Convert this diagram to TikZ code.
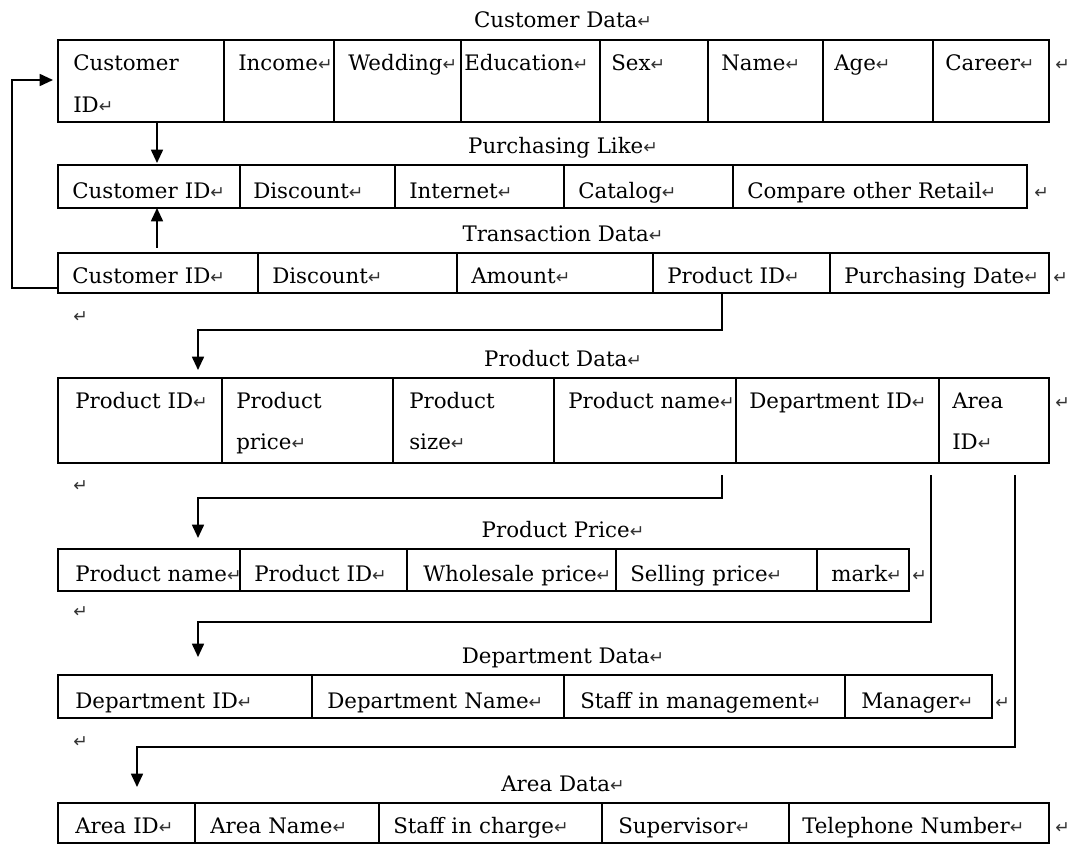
\documentclass[tikz,border=0pt]{standalone}
\usepackage{fontspec}
\setmainfont{DejaVu Serif}
\newfontfamily\pmf{DejaVu Sans}
\usetikzlibrary{arrows.meta,calc}
\newcommand\pmk{{\pmf\fontsize{13}{14}\selectfont\color{black!80}\char"21B5}}
\newcommand\tcell[5]{%
  \node[cellbox, minimum width={(#3-#2)*0.75pt}, minimum height={(\yb-\yt)*0.75pt}] (#1) at (#2,\yt) {};
  \node[celltext] (#1t) at (#4,\ybl) {#5};
}
\tikzset{
  txt/.style={font=\fontsize{16}{31}\selectfont},
  cellbox/.style={draw, line width=1.3pt, inner sep=0pt, outer sep=0pt, anchor=north west},
  celltext/.style={txt, anchor=base west, inner sep=0pt, text width=12cm, align=left},
  title/.style={txt, anchor=base, inner sep=0pt},
  pmnode/.style={anchor=base west, inner sep=0pt},
  conn/.style={line width=1.3pt, -{Triangle[length=10pt,width=9pt]}},
}
\begin{document}
\begin{tikzpicture}[x=0.75pt,y=-0.75pt]
\fill[white] (0,0) rectangle (1069,845);
\useasboundingbox (0,0) rectangle (1069,845);

% ---------- Customer Data
\node[title] (tCD) at (563,28) {Customer Data\pmk};
\def\yt{40}\def\yb{122}\def\ybl{71}
\tcell{c1}{58}{224}{73}{Customer\\ID\pmk}
\tcell{c2}{224}{334}{238}{Income\pmk}
\tcell{c3}{334}{461}{348}{Wedding\pmk}
\tcell{c4}{461}{600}{464}{Education\pmk}
\tcell{c5}{600}{708}{611}{Sex\pmk}
\tcell{c6}{708}{823}{721}{Name\pmk}
\tcell{c7}{823}{933}{834}{Age\pmk}
\tcell{c8}{933}{1049}{945}{Career\pmk}
\node[pmnode] (m1) at (1055,71) {\pmk};

% ---------- Purchasing Like
\node[title] (tPL) at (563,153) {Purchasing Like\pmk};
\def\yt{165}\def\yb{208}\def\ybl{198}
\tcell{pl1}{58}{240}{72}{Customer ID\pmk}
\tcell{pl2}{240}{395}{253}{Discount\pmk}
\tcell{pl3}{395}{564}{409}{Internet\pmk}
\tcell{pl4}{564}{733}{578}{Catalog\pmk}
\tcell{pl5}{733}{1027}{747}{Compare other Retail\pmk}
\node[pmnode] (m2) at (1034,198) {\pmk};

% ---------- Transaction Data
\node[title] (tTD) at (563,241) {Transaction Data\pmk};
\def\yt{253}\def\yb{293}\def\ybl{283}
\tcell{tr1}{58}{258}{72}{Customer ID\pmk}
\tcell{tr2}{258}{457}{272}{Discount\pmk}
\tcell{tr3}{457}{653}{471}{Amount\pmk}
\tcell{tr4}{653}{830}{667}{Product ID\pmk}
\tcell{tr5}{830}{1049}{844}{Purchasing Date\pmk}
\node[pmnode] (m3) at (1053,283) {\pmk};
\node[pmnode] (m4) at (73,322) {\pmk};

% ---------- Product Data
\node[title] (tPD) at (563,366) {Product Data\pmk};
\def\yt{378}\def\yb{463}\def\ybl{408}
\tcell{pd1}{58}{222}{75}{Product ID\pmk}
\tcell{pd2}{222}{393}{236}{Product\\price\pmk}
\tcell{pd3}{393}{554}{409}{Product\\size\pmk}
\tcell{pd4}{554}{736}{568}{Product name\pmk}
\tcell{pd5}{736}{939}{749}{Department ID\pmk}
\tcell{pd6}{939}{1049}{952}{Area\\ID\pmk}
\node[pmnode] (m5) at (1055,408) {\pmk};
\node[pmnode] (m6) at (73,491) {\pmk};

% ---------- Product Price
\node[title] (tPP) at (563,537) {Product Price\pmk};
\def\yt{549}\def\yb{591}\def\ybl{581}
\tcell{pp1}{58}{240}{75}{Product name\pmk}
\tcell{pp2}{240}{407}{254}{Product ID\pmk}
\tcell{pp3}{407}{616}{423}{Wholesale price\pmk}
\tcell{pp4}{616}{817}{630}{Selling price\pmk}
\tcell{pp5}{817}{909}{831}{mark\pmk}
\node[pmnode] (m7) at (912,581) {\pmk};
\node[pmnode] (m8) at (73,617) {\pmk};

% ---------- Department Data
\node[title] (tDD) at (563,663) {Department Data\pmk};
\def\yt{675}\def\yb{718}\def\ybl{708}
\tcell{dp1}{58}{312}{75}{Department ID\pmk}
\tcell{dp2}{312}{564}{327}{Department Name\pmk}
\tcell{dp3}{564}{845}{580}{Staff in management\pmk}
\tcell{dp4}{845}{992}{861}{Manager\pmk}
\node[pmnode] (m9) at (995,708) {\pmk};
\node[pmnode] (m10) at (73,747) {\pmk};

% ---------- Area Data
\node[title] (tAD) at (563,791) {Area Data\pmk};
\def\yt{803}\def\yb{843}\def\ybl{833}
\tcell{ar1}{58}{195}{75}{Area ID\pmk}
\tcell{ar2}{195}{379}{210}{Area Name\pmk}
\tcell{ar3}{379}{602}{393}{Staff in charge\pmk}
\tcell{ar4}{602}{789}{618}{Supervisor\pmk}
\tcell{ar5}{789}{1049}{802}{Telephone Number\pmk}
\node[pmnode] (m11) at (1055,833) {\pmk};

% ---------- connectors
\coordinate (xa) at (157,0);
\coordinate (xb) at (722,0);
\coordinate (xc) at (198,0);
\coordinate (xd) at (931,0);
\coordinate (xe) at (1015,0);
\coordinate (xf) at (137,0);

\draw[conn, shorten >=3.75pt] ($(tr1.south west)+(0,-5)$) -- ++(-46,0) |- ($(c1.north west)+(0,40)$);
\draw[conn, shorten >=1.5pt] (c1.south -| xa) -- (pl1.north -| xa);
\draw[conn, shorten <=4pt] (tr1.north -| xa) -- (pl1.south -| xa);
\draw[conn, shorten >=6pt] (tr4.south -| xb) -- ++(0,37) -| (pd1.north -| xc);
\draw[conn, shorten <=9pt, shorten >=8.25pt] (pd4.south -| xb) -- ++(0,35) -| (pp1.north -| xc);
\draw[conn, shorten <=9pt, shorten >=13.5pt] (pd5.south -| xd) -- ++(0,159) -| (dp1.north -| xc);
\draw[conn, shorten <=9pt, shorten >=12pt] (pd6.south -| xe) -- ++(0,284) -| (ar1.north -| xf);
\end{tikzpicture}
\end{document}
